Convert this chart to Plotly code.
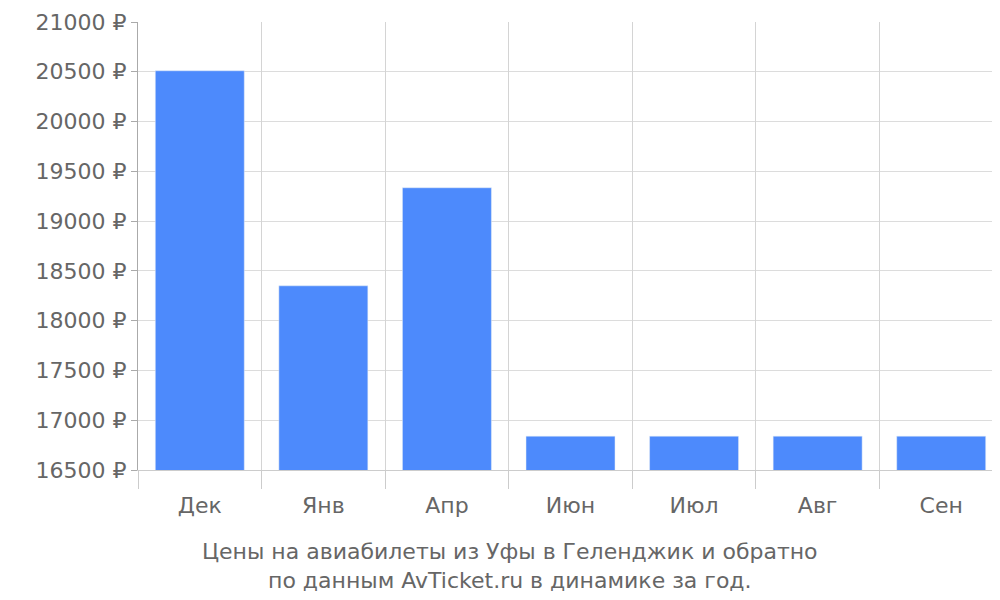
import plotly.graph_objects as go

months = ["Дек", "Янв", "Апр", "Июн", "Июл", "Авг", "Сен"]
prices = [20510, 18350, 19335, 16840, 16840, 16840, 16840]
ytick_vals = list(range(16500, 21001, 500))
ytick_text = [f"{v} ₽" for v in ytick_vals]

pos = list(range(len(months)))
bounds = [p - 0.5 for p in pos] + [len(months) - 0.5]

fig = go.Figure()
fig.add_trace(go.Bar(x=pos, y=prices, marker_color="#4d8afc", width=0.72,
                     hovertemplate="%{y} ₽<extra></extra>"))
# invisible trace to activate the boundary axis
fig.add_trace(go.Scatter(x=[bounds[0], bounds[-1]], y=[16500, 16500], xaxis="x2",
                         mode="markers", marker_opacity=0, showlegend=False, hoverinfo="skip"))

grey = "#666666"
fig.update_layout(
    width=1000, height=600,
    margin=dict(l=130, r=5, t=14, b=138),
    paper_bgcolor="white", plot_bgcolor="white",
    font=dict(family="DejaVu Sans", color=grey, size=22),
    showlegend=False,
    xaxis=dict(range=[bounds[0], bounds[-1]], tickvals=pos, ticktext=months,
               showgrid=False, ticks="", ticklabelstandoff=20, automargin=False,
               tickfont=dict(size=22)),
    xaxis2=dict(range=[bounds[0], bounds[-1]], overlaying="x", tickvals=bounds,
                showticklabels=False, showgrid=True, gridcolor="#d4d4d4",
                ticks="outside", ticklen=18, tickcolor="#cccccc", automargin=False,
                showline=True, linecolor="#cccccc", side="bottom", anchor="y"),
    yaxis=dict(range=[16500, 21000], tickvals=ytick_vals, ticktext=ytick_text,
               gridcolor="#dcdcdc", ticks="outside", ticklen=6, tickcolor="#aaaaaa",
               automargin=False,
               showline=True, linecolor="#aaaaaa", tickfont=dict(size=22)),
    annotations=[dict(text="Цены на авиабилеты из Уфы в Геленджик и обратно<br>по данным AvTicket.ru в динамике за год.",
                      xref="paper", yref="paper", x=0.43, y=-0.15, yanchor="top",
                      showarrow=False, font=dict(size=22, color=grey))],
)
fig.write_html("out.html")
